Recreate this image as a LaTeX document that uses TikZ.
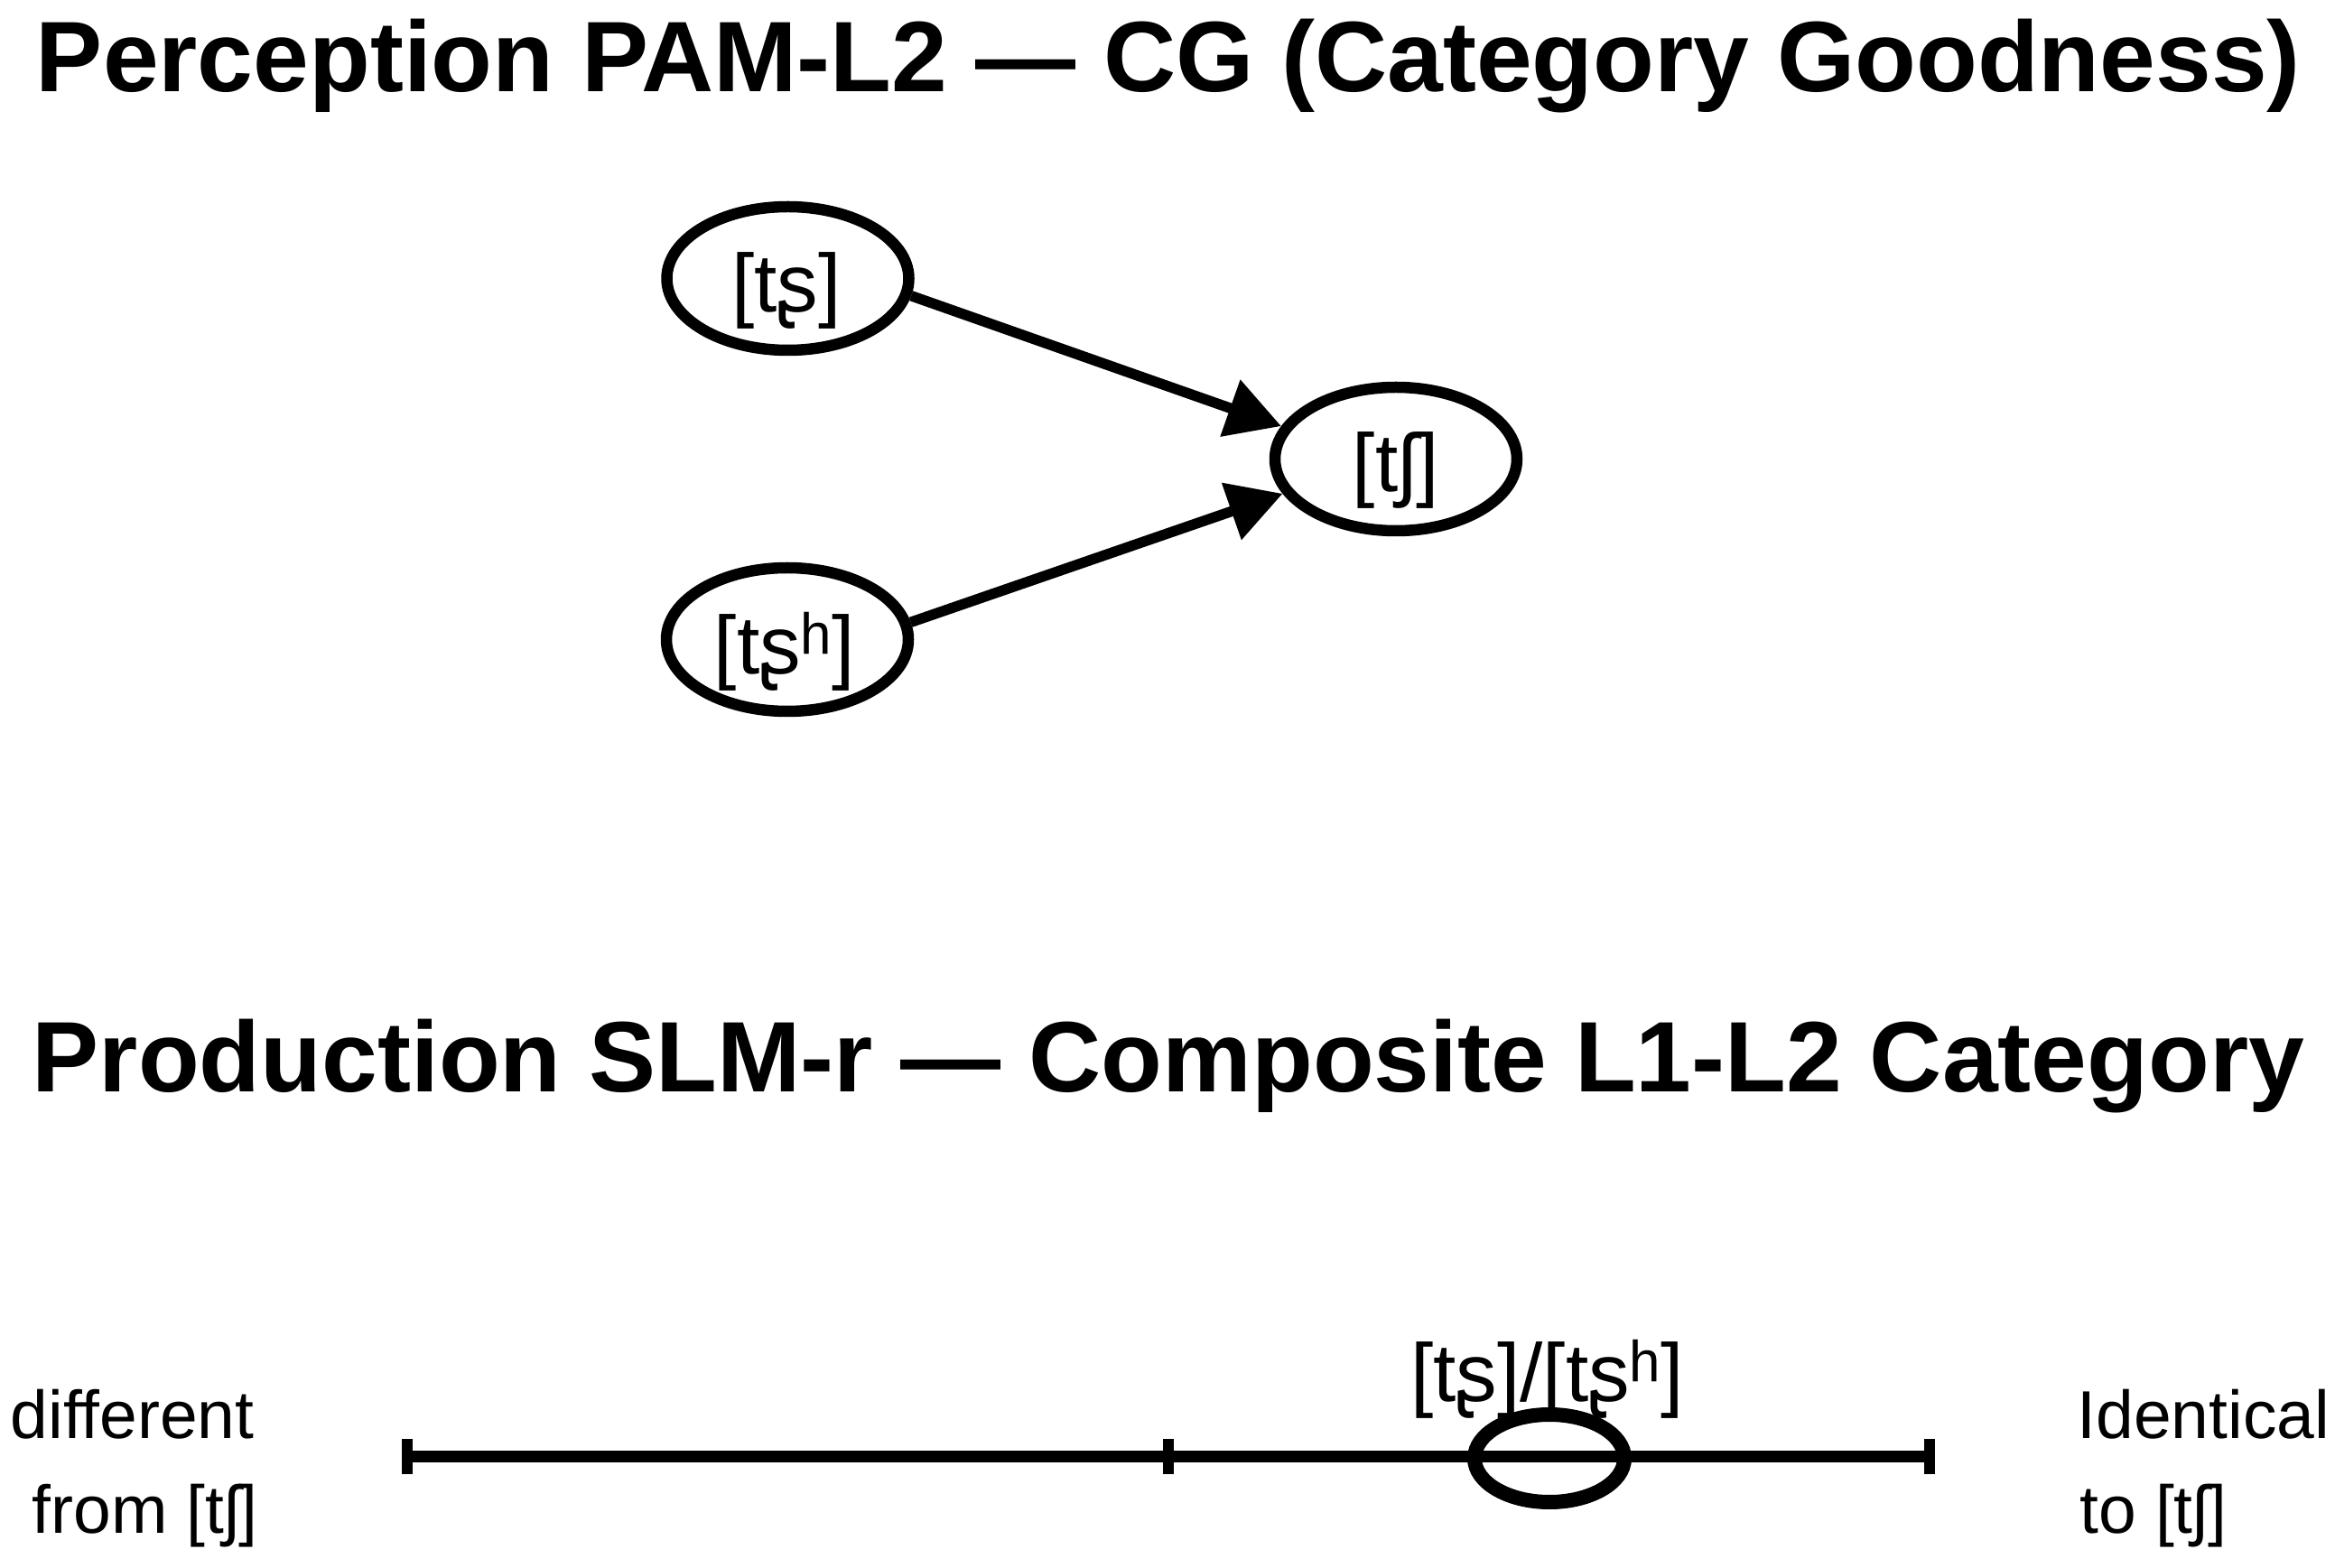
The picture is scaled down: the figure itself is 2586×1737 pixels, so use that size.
\documentclass[tikz,border=0pt]{standalone}
\usepackage{fontspec}
\setmainfont{Liberation Sans}
\usetikzlibrary{arrows.meta,shapes.geometric}
\begin{document}
\begin{tikzpicture}[x=0.1mm,y=-0.1mm,
  title/.style={font=\fontsize{11.1mm}{13mm}\selectfont\bfseries, inner sep=0pt, anchor=base},
  ipa/.style={font=\fontsize{9.1mm}{10mm}\selectfont, inner sep=0pt, anchor=base},
  side/.style={font=\fontsize{7.5mm}{9mm}\selectfont, inner sep=0pt, anchor=base west},
  oval/.style={ellipse, draw, line width=1.25mm, minimum width=26.8mm, minimum height=15.9mm, inner sep=0pt},
  link/.style={line width=1.15mm, -{Triangle[length=6mm,width=6.4mm]}},
  axisline/.style={line width=1.35mm},
  tickmark/.style={line width=1.27mm},
  compoval/.style={ellipse, draw, line width=1.6mm, minimum width=16.6mm, minimum height=9.7mm, inner sep=0pt}
]
\useasboundingbox (0,0) rectangle (2586,1737);

% titles
\node[title] (t1) at (1294,102) {Perception PAM-L2 — CG (Category Goodness)};
\node[title] (t2) at (1294,1209) {Production SLM-r — Composite L1-L2 Category};

% perception graph
\node[oval] (retro) at (872.5,308.5) {};
\node[oval] (retroasp) at (872,708.5) {};
\node[oval] (palato) at (1546,508.5) {};
\node[ipa] (retroL) at (871,346) {[tʂ]};
\node[ipa] (retroaspL) at (869,747) {[tʂʰ]};
\node[ipa] (palatoL) at (1546,545) {[tʃ]};
\draw[link] (retro.-8) -- (palato.164);
\draw[link] (retroasp.8) -- (palato.-163);

% production scale
\coordinate (axL) at (451,1613.5);
\coordinate (axM) at (1294,1613.5);
\coordinate (axR) at (2137,1613.5);
\draw[axisline] (axL) -- (axR);
\foreach \p in {axL,axM,axR}
  \draw[tickmark] (\p) ++(0,-19.5) -- ++(0,39);
\node[compoval] (comp) at (1716,1615.5) {};
\node[ipa] (compL) at (1713.5,1552) {[tʂ]/[tʂʰ]};

\node[side] (diffA) at (11,1593) {different};
\node[side] (diffB) at (35,1698) {from [tʃ]};
\node[side] (identA) at (2300,1593) {Identical};
\node[side] (identB) at (2303,1698) {to [tʃ]};
\end{tikzpicture}
\end{document}
